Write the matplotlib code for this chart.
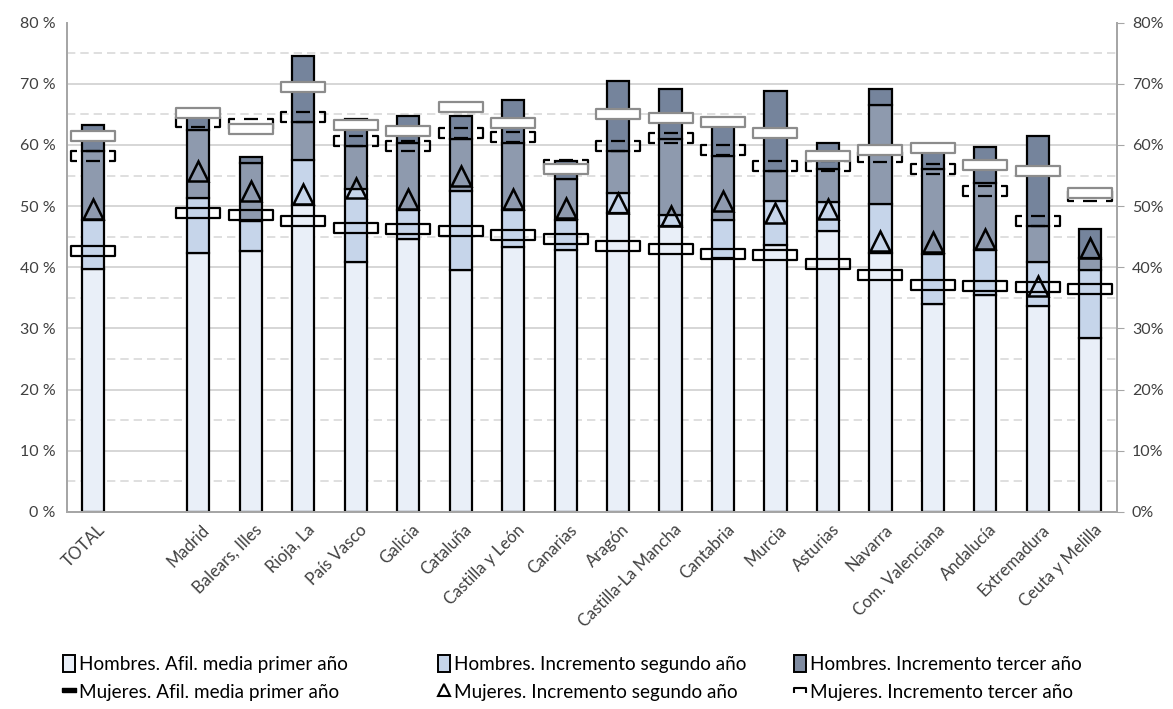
import matplotlib
matplotlib.use('Agg')
import matplotlib.pyplot as plt
import numpy as np
from matplotlib.path import Path
from matplotlib.patches import Patch
from matplotlib.lines import Line2D
from matplotlib.transforms import ScaledTranslation

plt.rcParams['font.family'] = ['Lato', 'DejaVu Sans']

# datos (tasas en %, valores acumulados)
regiones = ['TOTAL', 'Madrid', 'Balears, Illes', 'Rioja, La', 'País Vasco', 'Galicia',
            'Cataluña', 'Castilla y León', 'Canarias', 'Aragón', 'Castilla-La Mancha',
            'Cantabria', 'Murcia', 'Asturias', 'Navarra', 'Com. Valenciana', 'Andalucía',
            'Extremadura', 'Ceuta y Melilla']
h_primer = [39.7, 42.3, 42.6, 50.2, 40.8, 44.6, 39.5, 43.3, 42.8, 48.8, 46.7, 41.5,
            43.7, 46.0, 42.4, 34.0, 35.4, 33.7, 28.4]
h_segundo = [47.7, 51.3, 47.5, 57.6, 52.8, 49.4, 52.4, 49.3, 47.8, 52.2, 48.6, 47.7,
             50.8, 50.6, 50.4, 42.1, 42.9, 40.8, 39.6]
h_tono = [59.0, 62.5, 57.0, 63.8, 59.8, 60.4, 61.0, 60.4, 54.4, 59.0, 60.9, 58.2,
          55.7, 56.1, 66.6, 56.1, 53.8, 46.7, 41.6]
h_tercer = [63.3, 64.8, 58.0, 74.5, 64.3, 64.7, 64.7, 67.4, 57.4, 70.4, 69.2, 63.5,
            68.8, 60.4, 69.2, 59.0, 59.7, 61.5, 46.2]
m_primer = [42.6, 48.9, 48.6, 47.5, 46.4, 46.2, 46.0, 45.2, 44.7, 43.5, 43.0, 42.2,
            42.0, 40.5, 38.8, 37.1, 36.9, 36.7, 36.5]
m_segundo = [49.5, 55.7, 52.5, 52.0, 53.0, 51.2, 55.0, 51.1, 49.7, 50.5, 48.4, 50.9,
             48.9, 49.6, 44.3, 44.1, 44.6, 36.9, 43.2]
m_tercer = [58.2, 63.7, 63.5, 64.5, 60.6, 59.8, 62.0, 61.3, 56.8, 59.8, 61.2, 59.2,
            56.5, 56.6, 58.1, 56.0, 52.5, 47.5, 51.6]
referencia = [61.4, 65.2, 62.6, 69.5, 63.3, 62.3, 66.2, 63.6, 56.1, 65.0, 64.4, 63.8,
              62.0, 58.2, 59.1, 59.5, 56.7, 55.8, 52.2]

h1 = np.array(h_primer)
h2 = np.array(h_segundo)
ht = np.array(h_tono)
h3 = np.array(h_tercer)

idx = np.arange(len(regiones))
x = idx + (idx > 0)  # hueco despues de TOTAL

c_pale = '#e9eff8'
c_light = '#c6d5ea'
c_mid = '#8e9aae'
c_dark = '#75849c'
c_txt = '#404040'

fig = plt.figure(figsize=(11.73, 7.09), dpi=100)
ax = fig.add_axes([0.057, 0.278, 0.895, 0.69])

# rejilla
for v in range(10, 80, 10):
    ax.axhline(v, color='#cfcfcf', lw=1.2, zorder=0)
for v in range(5, 80, 10):
    ax.axhline(v, color='#d9d9d9', lw=1.2, ls=(0, (5, 3)), zorder=0)

w = 0.42
kw = dict(width=w, edgecolor='black', linewidth=1.6, zorder=2)
ax.bar(x, h1, color=c_pale, **kw)
ax.bar(x, h2 - h1, bottom=h1, color=c_light, **kw)
ax.bar(x, ht - h2, bottom=h2, color=c_mid, **kw)
ax.bar(x, h3 - ht, bottom=ht, color=c_dark, **kw)

caja = Path([(-1, -0.23), (1, -0.23), (1, 0.23), (-1, 0.23), (-1, -0.23)],
            [Path.MOVETO, Path.LINETO, Path.LINETO, Path.LINETO, Path.CLOSEPOLY])
cv = [(-0.75, 0.23), (-1, 0.23), (-1, -0.23), (-0.75, -0.23),
      (0.75, 0.23), (1, 0.23), (1, -0.23), (0.75, -0.23),
      (-0.32, 0.23), (0.32, 0.23), (-0.32, -0.23), (0.32, -0.23)]
cc = [Path.MOVETO, Path.LINETO, Path.LINETO, Path.LINETO,
      Path.MOVETO, Path.LINETO, Path.LINETO, Path.LINETO,
      Path.MOVETO, Path.LINETO, Path.MOVETO, Path.LINETO]
corchete = Path(cv, cc)

ms = 31
ax.plot(x, m_primer, ls='none', marker=caja, ms=ms, mfc='none', mec='black', mew=1.6, zorder=3)
ax.plot(x, m_segundo, ls='none', marker='^', ms=14.5, mfc='none', mec='black', mew=1.8, zorder=4)
ax.plot(x, m_tercer, ls='none', marker=corchete, ms=ms, mfc='none', mec='black', mew=1.6, zorder=5)
ax.plot(x, referencia, ls='none', marker=caja, ms=ms, mfc='white', mec='#8c8c8c', mew=1.6, zorder=6)

ax.set_xlim(-0.5, x[-1] + 0.5)
ax.set_ylim(0, 80)
ax.set_yticks(range(0, 81, 10))
ax.set_yticklabels([f'{v} %' for v in range(0, 81, 10)], fontsize=11.5, color=c_txt)
ax.tick_params(axis='y', length=0, pad=8)
ax.set_xticks(x)
ax.set_xticklabels(regiones, rotation=45, ha='right', va='center', rotation_mode='anchor',
                   fontsize=12, color=c_txt)
ax.tick_params(axis='x', length=0, pad=11)
desplaza = ScaledTranslation(0.09, 0, fig.dpi_scale_trans)
for lab in ax.get_xticklabels():
    lab.set_transform(lab.get_transform() + desplaza)

ax2 = ax.twinx()
ax2.set_ylim(0, 80)
ax2.set_yticks(range(0, 81, 10))
ax2.set_yticklabels([f'{v}%' for v in range(0, 81, 10)], fontsize=11.5, color=c_txt)
ax2.tick_params(axis='y', length=5, color='#a6a6a6', pad=6)

for a in (ax, ax2):
    a.spines['top'].set_visible(False)
    for s in ('left', 'right', 'bottom'):
        a.spines[s].set_color('#a6a6a6')
        a.spines[s].set_linewidth(1.3)

# leyenda en tres columnas
leg_corchete = Path([(-1, -0.4), (-1, 0.4), (1, 0.4), (1, -0.4)],
                    [Path.MOVETO, Path.LINETO, Path.LINETO, Path.LINETO])
leg_guion = Path([(-1, -0.3), (1, -0.3), (1, 0.3), (-1, 0.3), (-1, -0.3)])
columnas = [
    ([Patch(facecolor=c_pale, edgecolor='black', lw=1.4),
      Line2D([], [], ls='none', marker=leg_guion, ms=10, mfc='black', mec='black', mew=1)],
     ['Hombres. Afil. media primer año', 'Mujeres. Afil. media primer año'], 0.039),
    ([Patch(facecolor=c_light, edgecolor='black', lw=1.4),
      Line2D([], [], ls='none', marker='^', ms=8, mfc='none', mec='black', mew=1.5)],
     ['Hombres. Incremento segundo año', 'Mujeres. Incremento segundo año'], 0.359),
    ([Patch(facecolor='#7f8ba0', edgecolor='black', lw=1.4),
      Line2D([], [], ls='none', marker=leg_corchete, ms=9, mfc='none', mec='black', mew=1.5)],
     ['Hombres. Incremento tercer año', 'Mujeres. Incremento tercer año'], 0.662),
]
for hs, ls_, x0 in columnas:
    fig.legend(hs, ls_, loc='lower left', bbox_to_anchor=(x0, -0.012), frameon=False,
               fontsize=13.6, handlelength=0.65, handleheight=1.0, handletextpad=0.2,
               labelspacing=0.5)

fig.savefig('out.png', dpi=100)
